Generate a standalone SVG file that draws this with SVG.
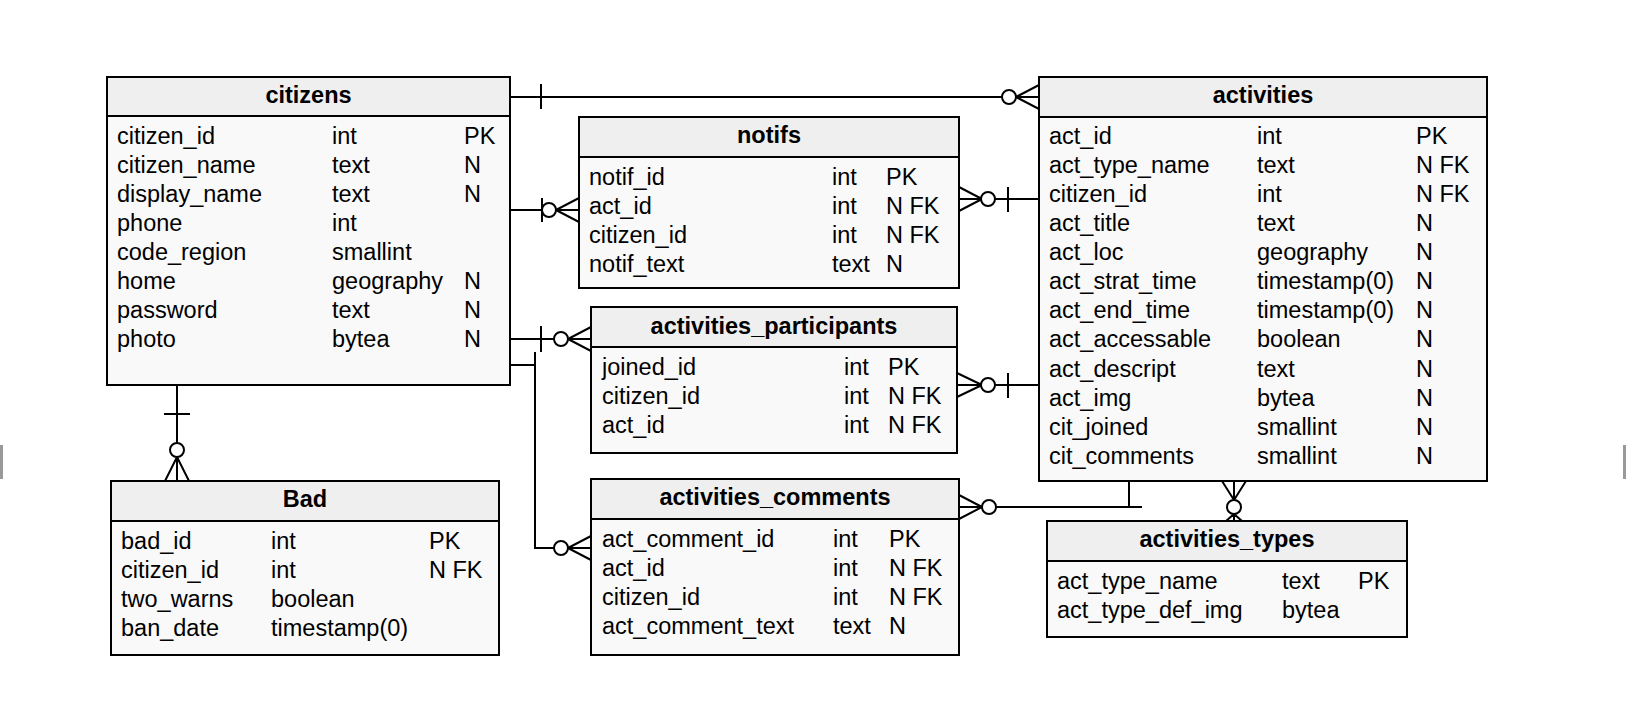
<svg xmlns="http://www.w3.org/2000/svg" width="1626" height="728" viewBox="0 0 1626 728">
<style>
.box{fill:#f9f9f9;stroke:#000;stroke-width:2}
.hdr{fill:#efefef;stroke:#000;stroke-width:2}
.t{font-family:"Liberation Sans",Arial,sans-serif;font-size:23.5px;fill:#000}
.h{font-family:"Liberation Sans",Arial,sans-serif;font-size:23.5px;font-weight:bold;fill:#000;text-anchor:middle}
.c{fill:none;stroke:#000;stroke-width:2}
.o{fill:#fff;stroke:#000;stroke-width:2}
</style>
<rect x="0" y="0" width="1626" height="728" fill="#fff"/>
<rect x="0" y="445" width="3" height="34" fill="#999"/>
<rect x="1623" y="445" width="3" height="34" fill="#999"/>

<g id="connectors">
  <!-- citizens - activities -->
  <path class="c" d="M510,97 H1002 M541,84 V109 M1016,97 H1039 M1016,97 L1039,85 M1016,97 L1039,109"/>
  <circle class="o" cx="1009" cy="97" r="7"/>
  <!-- citizens - notifs -->
  <path class="c" d="M510,210 H543 M542,198 V222 M556,210 H579 M556,210 L579,198 M556,210 L579,222"/>
  <circle class="o" cx="549" cy="210" r="7"/>
  <!-- citizens - participants -->
  <path class="c" d="M510,339 H554 M541,326 V352 M568,339 H591 M568,339 L591,327 M568,339 L591,351"/>
  <circle class="o" cx="561" cy="339" r="7"/>
  <!-- citizens - comments -->
  <path class="c" d="M510,365 H535 M535,352 V548 H554 M568,548 H591 M568,548 L591,536 M568,548 L591,560"/>
  <circle class="o" cx="561" cy="548" r="7"/>
  <!-- notifs - activities -->
  <path class="c" d="M959,199 H981 M959,187 L982,199 M959,211 L982,199 M995,199 H1039 M1008,187 V212"/>
  <circle class="o" cx="988" cy="199" r="7"/>
  <!-- participants - activities -->
  <path class="c" d="M957,385 H981 M957,373 L982,385 M957,397 L982,385 M995,385 H1039 M1008,373 V398"/>
  <circle class="o" cx="988" cy="385" r="7"/>
  <!-- comments - activities -->
  <path class="c" d="M959,507 H982 M959,495 L982,507 M959,519 L982,507 M996,507 H1142 M1129,481 V507"/>
  <circle class="o" cx="989" cy="507" r="7"/>
  <!-- activities - activities_types -->
  <path class="c" d="M1234,481 V500 M1222,481 L1234,500 M1246,481 L1234,500 M1234,514 V521 M1234,514 L1226,521 M1234,514 L1242,521"/>
  <circle class="o" cx="1234" cy="507" r="7"/>
  <!-- citizens - Bad -->
  <path class="c" d="M177,385 V443 M164,414 H190 M177,457 V481 M177,457 L165,481 M177,457 L189,481"/>
  <circle class="o" cx="177" cy="450" r="7"/>
</g>

<g id="citizens">
  <rect class="box" x="107" y="77" width="403" height="308"/>
  <rect class="hdr" x="107" y="77" width="403" height="39"/>
  <text class="h" x="308.5" y="103">citizens</text>
  <text class="t" x="117" y="144">citizen_id</text><text class="t" x="332" y="144">int</text><text class="t" x="464" y="144">PK</text>
  <text class="t" x="117" y="173">citizen_name</text><text class="t" x="332" y="173">text</text><text class="t" x="464" y="173">N</text>
  <text class="t" x="117" y="202">display_name</text><text class="t" x="332" y="202">text</text><text class="t" x="464" y="202">N</text>
  <text class="t" x="117" y="231">phone</text><text class="t" x="332" y="231">int</text>
  <text class="t" x="117" y="260">code_region</text><text class="t" x="332" y="260">smallint</text>
  <text class="t" x="117" y="289">home</text><text class="t" x="332" y="289">geography</text><text class="t" x="464" y="289">N</text>
  <text class="t" x="117" y="318">password</text><text class="t" x="332" y="318">text</text><text class="t" x="464" y="318">N</text>
  <text class="t" x="117" y="347">photo</text><text class="t" x="332" y="347">bytea</text><text class="t" x="464" y="347">N</text>
</g>

<g id="notifs">
  <rect class="box" x="579" y="117" width="380" height="171"/>
  <rect class="hdr" x="579" y="117" width="380" height="40"/>
  <text class="h" x="769" y="143">notifs</text>
  <text class="t" x="589" y="185">notif_id</text><text class="t" x="832" y="185">int</text><text class="t" x="886" y="185">PK</text>
  <text class="t" x="589" y="214">act_id</text><text class="t" x="832" y="214">int</text><text class="t" x="886" y="214">N FK</text>
  <text class="t" x="589" y="243">citizen_id</text><text class="t" x="832" y="243">int</text><text class="t" x="886" y="243">N FK</text>
  <text class="t" x="589" y="272">notif_text</text><text class="t" x="832" y="272">text</text><text class="t" x="886" y="272">N</text>
</g>

<g id="activities_participants">
  <rect class="box" x="591" y="307" width="366" height="146"/>
  <rect class="hdr" x="591" y="307" width="366" height="40"/>
  <text class="h" x="774" y="334">activities_participants</text>
  <text class="t" x="602" y="375">joined_id</text><text class="t" x="844" y="375">int</text><text class="t" x="888" y="375">PK</text>
  <text class="t" x="602" y="404">citizen_id</text><text class="t" x="844" y="404">int</text><text class="t" x="888" y="404">N FK</text>
  <text class="t" x="602" y="433">act_id</text><text class="t" x="844" y="433">int</text><text class="t" x="888" y="433">N FK</text>
</g>

<g id="activities_comments">
  <rect class="box" x="591" y="479" width="368" height="176"/>
  <rect class="hdr" x="591" y="479" width="368" height="40"/>
  <text class="h" x="775" y="505">activities_comments</text>
  <text class="t" x="602" y="547">act_comment_id</text><text class="t" x="833" y="547">int</text><text class="t" x="889" y="547">PK</text>
  <text class="t" x="602" y="576">act_id</text><text class="t" x="833" y="576">int</text><text class="t" x="889" y="576">N FK</text>
  <text class="t" x="602" y="605">citizen_id</text><text class="t" x="833" y="605">int</text><text class="t" x="889" y="605">N FK</text>
  <text class="t" x="602" y="634">act_comment_text</text><text class="t" x="833" y="634">text</text><text class="t" x="889" y="634">N</text>
</g>

<g id="activities">
  <rect class="box" x="1039" y="77" width="448" height="404"/>
  <rect class="hdr" x="1039" y="77" width="448" height="40"/>
  <text class="h" x="1263" y="103">activities</text>
  <text class="t" x="1049" y="144">act_id</text><text class="t" x="1257" y="144">int</text><text class="t" x="1416" y="144">PK</text>
  <text class="t" x="1049" y="173">act_type_name</text><text class="t" x="1257" y="173">text</text><text class="t" x="1416" y="173">N FK</text>
  <text class="t" x="1049" y="202">citizen_id</text><text class="t" x="1257" y="202">int</text><text class="t" x="1416" y="202">N FK</text>
  <text class="t" x="1049" y="231">act_title</text><text class="t" x="1257" y="231">text</text><text class="t" x="1416" y="231">N</text>
  <text class="t" x="1049" y="260">act_loc</text><text class="t" x="1257" y="260">geography</text><text class="t" x="1416" y="260">N</text>
  <text class="t" x="1049" y="289">act_strat_time</text><text class="t" x="1257" y="289">timestamp(0)</text><text class="t" x="1416" y="289">N</text>
  <text class="t" x="1049" y="318">act_end_time</text><text class="t" x="1257" y="318">timestamp(0)</text><text class="t" x="1416" y="318">N</text>
  <text class="t" x="1049" y="347">act_accessable</text><text class="t" x="1257" y="347">boolean</text><text class="t" x="1416" y="347">N</text>
  <text class="t" x="1049" y="377">act_descript</text><text class="t" x="1257" y="377">text</text><text class="t" x="1416" y="377">N</text>
  <text class="t" x="1049" y="406">act_img</text><text class="t" x="1257" y="406">bytea</text><text class="t" x="1416" y="406">N</text>
  <text class="t" x="1049" y="435">cit_joined</text><text class="t" x="1257" y="435">smallint</text><text class="t" x="1416" y="435">N</text>
  <text class="t" x="1049" y="464">cit_comments</text><text class="t" x="1257" y="464">smallint</text><text class="t" x="1416" y="464">N</text>
</g>

<g id="activities_types">
  <rect class="box" x="1047" y="521" width="360" height="116"/>
  <rect class="hdr" x="1047" y="521" width="360" height="40"/>
  <text class="h" x="1227" y="547">activities_types</text>
  <text class="t" x="1057" y="589">act_type_name</text><text class="t" x="1282" y="589">text</text><text class="t" x="1358" y="589">PK</text>
  <text class="t" x="1057" y="618">act_type_def_img</text><text class="t" x="1282" y="618">bytea</text>
</g>

<g id="Bad">
  <rect class="box" x="111" y="481" width="388" height="174"/>
  <rect class="hdr" x="111" y="481" width="388" height="40"/>
  <text class="h" x="305" y="507">Bad</text>
  <text class="t" x="121" y="549">bad_id</text><text class="t" x="271" y="549">int</text><text class="t" x="429" y="549">PK</text>
  <text class="t" x="121" y="578">citizen_id</text><text class="t" x="271" y="578">int</text><text class="t" x="429" y="578">N FK</text>
  <text class="t" x="121" y="607">two_warns</text><text class="t" x="271" y="607">boolean</text>
  <text class="t" x="121" y="636">ban_date</text><text class="t" x="271" y="636">timestamp(0)</text>
</g>
</svg>
